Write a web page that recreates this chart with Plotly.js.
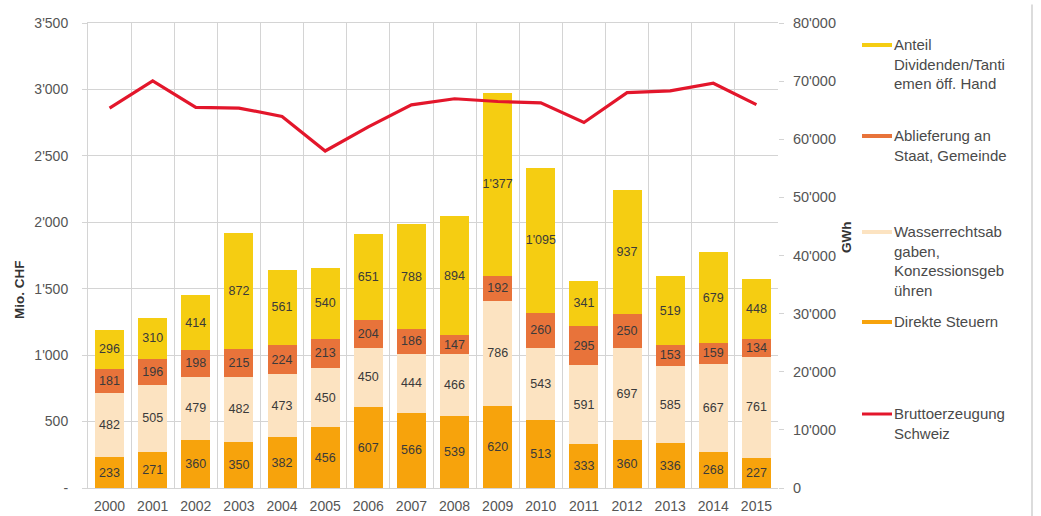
<!DOCTYPE html>
<html><head><meta charset="utf-8">
<script src="https://cdn.plot.ly/plotly-3.0.1.min.js"></script>
<style>body{margin:0;background:#fff}#c{width:1041px;height:516px}</style>
</head><body><div id="c"></div>
<script>
const years = ['2000','2001','2002','2003','2004','2005','2006','2007','2008','2009','2010','2011','2012','2013','2014','2015'];
const direkteSteuern = [233,271,360,350,382,456,607,566,539,620,513,333,360,336,268,227];
const wasserrecht = [482,505,479,482,473,450,450,444,466,786,543,591,697,585,667,761];
const ablieferung = [181,196,198,215,224,213,204,186,147,192,260,295,250,153,159,134];
const dividenden = [296,310,414,872,561,540,651,788,894,1377,1095,341,937,519,679,448];
const bruttoGWh = [65348,70037,65497,65365,63935,57977,62141,65916,66968,66494,66252,62881,68018,68312,69633,65957];
const leftTickVals = [0,500,1000,1500,2000,2500,3000,3500];
const leftTickText = ['-','500',"1'000","1'500","2'000","2'500","3'000","3'500"];
const rightTickVals = [0,10000,20000,30000,40000,50000,60000,70000,80000];
const rightTickText = ['0',"10'000","20'000","30'000","40'000","50'000","60'000","70'000","80'000"];
const legendNames = ['Anteil<br>Dividenden/Tanti<br>emen öff. Hand','Ablieferung an<br>Staat, Gemeinde','Wasserrechtsab<br>gaben,<br>Konzessionsgeb<br>ühren','Direkte Steuern','Bruttoerzeugung<br>Schweiz'];

const C = {yel:'#F5CD12', red:'#E8733A', peach:'#FCE3C1', org:'#F7A30C', line:'#E3162B'};
const font = 'Liberation Sans, Arial, sans-serif';
function bar(y, color){
  return {type:'bar', x:years, y:y, marker:{color:color, line:{width:0}},
    texttemplate:'%{y:,}', textposition:'inside', insidetextanchor:'middle', textangle:0,
    constraintext:'none', textfont:{family:font, size:12.5, color:'#3a3a3a'},
    hoverinfo:'skip', showlegend:false};
}
const data = [
  bar(direkteSteuern, C.org),
  bar(wasserrecht, C.peach),
  bar(ablieferung, C.red),
  bar(dividenden, C.yel),
  {type:'scatter', mode:'lines', x:years, y:bruttoGWh, yaxis:'y2',
   line:{color:C.line, width:3.2}, showlegend:false, hoverinfo:'skip'}
];
const legColors = [C.yel, C.red, C.peach, C.org, C.line];
const legY = [45,136,232,322,414];
const shapes = [], annotations = [];
legY.forEach((y,i)=>{
  shapes.push({type:'line', xref:'paper', yref:'paper', x0:(862-88)/690, x1:(892-88)/690,
    y0:(488-y)/465, y1:(488-y)/465, line:{color:legColors[i], width:i===4?3:4}});
  annotations.push({xref:'paper', yref:'paper', x:(892-88)/690, y:(488-y+11)/465,
    xanchor:'left', yanchor:'top', align:'left', showarrow:false, text:legendNames[i],
    font:{family:font, size:15, color:'#4a4a4a'}});
});
shapes.push({type:'line', xref:'paper', yref:'paper', x0:(1032-88)/690, x1:(1032-88)/690, y0:1.04, y1:-0.06, line:{color:'#d0d0d0', width:1.5}});
annotations.push({xref:'paper', yref:'paper', x:(19-88)/690, y:(488-290)/465, xanchor:'center', yanchor:'middle', textangle:-90, showarrow:false,
  text:'<b>Mio. CHF</b>', font:{family:font, size:13.5, color:'#333'}});
annotations.push({xref:'paper', yref:'paper', x:(846-88)/690, y:(488-237)/465, xanchor:'center', yanchor:'middle', textangle:-90, showarrow:false,
  text:'<b>GWh</b>', font:{family:font, size:13.5, color:'#333'}});
const layout = {
  width:1041, height:516, margin:{l:88, r:263, t:23, b:28},
  paper_bgcolor:'#fff', plot_bgcolor:'#fff', barmode:'stack', bargap:0.33,
  separators:".'",
  font:{family:font, size:12, color:'#555'},
  xaxis:{type:'category', tickson:'boundaries', showgrid:true, gridcolor:'#d4d4d4', gridwidth:1,
    ticks:'', showline:true, linecolor:'#d4d4d4', mirror:true, ticklabelstandoff:5, tickfont:{size:14, color:'#555'}},
  yaxis:{range:[0,3500], tickvals:leftTickVals, ticktext:leftTickText, showgrid:true, gridcolor:'#d4d4d4',
    zeroline:false, ticks:'outside', ticklen:5, tickcolor:'#d4d4d4', showline:true, linecolor:'#d4d4d4',
    ticklabelstandoff:11, tickfont:{size:14, color:'#555'}},
  yaxis2:{range:[0,80000], overlaying:'y', side:'right', tickvals:rightTickVals, ticktext:rightTickText,
    showgrid:false, zeroline:false, ticks:'outside', ticklen:5, tickcolor:'#d4d4d4',
    ticklabelstandoff:6, tickfont:{size:14.5, color:'#555'}},
  shapes:shapes, annotations:annotations, showlegend:false
};
Plotly.newPlot('c', data, layout, {displayModeBar:false, staticPlot:true});
</script></body></html>
